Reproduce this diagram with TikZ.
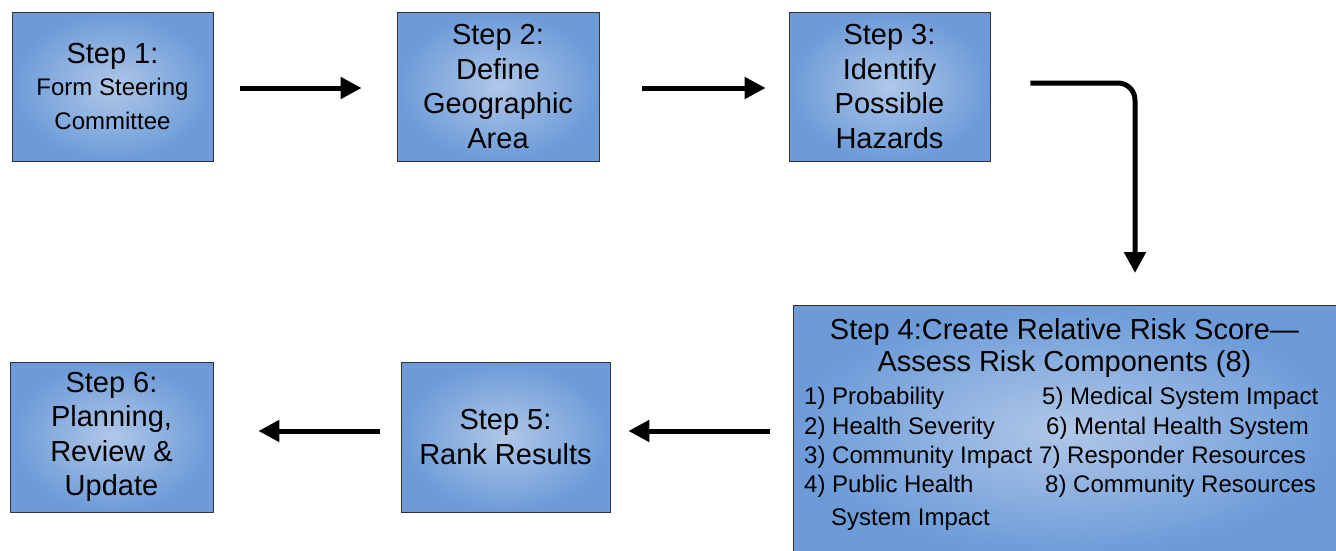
\documentclass[tikz,border=0pt]{standalone}
\usepackage{fontspec}
\setmainfont{Liberation Sans}
\usetikzlibrary{arrows.meta}
\definecolor{boxin}{RGB}{176,199,232}
\definecolor{boxout}{RGB}{108,155,216}
\tikzset{
  stepbox/.style={draw=black!80, line width=0.8pt, inner color=boxin, outer color=boxout,
    align=center, inner sep=0pt, font=\fontsize{29}{34.5}\selectfont},
  arr/.style={line width=5pt, -{Triangle[length=21pt,width=21pt]}},
  item/.style={anchor=west, inner sep=0pt, font=\fontsize{24}{29}\selectfont}
}
\begin{document}
\begin{tikzpicture}[x=1pt,y=-1pt]
\useasboundingbox (0,0) rectangle (1336,550);
\node[stepbox, minimum width=201pt, minimum height=149pt] (b1) at (112.5,86.5)
  {Step 1:\\[-3pt]{\fontsize{24}{34}\selectfont Form Steering}\\{\fontsize{24}{34}\selectfont Committee}};
\node[stepbox, minimum width=202pt, minimum height=149pt] (b2) at (498,86.5)
  {Step 2:\\Define\\Geographic\\Area};
\node[stepbox, minimum width=201pt, minimum height=149pt] (b3) at (889.5,86.5)
  {Step 3:\\Identify\\Possible\\Hazards};
\node[stepbox, minimum width=545pt, minimum height=250pt, anchor=north west] (b4) at (793,305) {};
\node[stepbox, minimum width=209pt, minimum height=150pt] (b5) at (505.5,437)
  {Step 5:\\Rank Results};
\node[stepbox, minimum width=203pt, minimum height=150pt] (b6) at (111.5,437)
  {Step 6:\\Planning,\\Review \&\\Update};

\node[align=center, inner sep=0pt, font=\fontsize{29}{32.5}\selectfont] (t4) at (1064.5,348)
  {Step 4:Create Relative Risk Score—\\Assess Risk Components (8)};
\node[item] (i1) at (804,398) {1) Probability};
\node[item] (i2) at (804,428) {2) Health Severity};
\node[item] (i3) at (804,457) {3) Community Impact};
\node[item] (i4) at (804,486) {4) Public Health};
\node[item] (i4b) at (831,520) {System Impact};
\node[item] (i5) at (1042,398) {5) Medical System Impact};
\node[item] (i6) at (1046,428) {6) Mental Health System};
\node[item] (i7) at (1039,457) {7) Responder Resources};
\node[item] (i8) at (1045,486) {8) Community Resources};

\draw[arr, shorten <=27pt, shorten >=35pt] ([yshift=-1.5pt]b1.east) -- ([yshift=-1.5pt]b2.west);
\draw[arr, shorten <=43pt, shorten >=23pt] ([yshift=-1.5pt]b2.east) -- ([yshift=-1.5pt]b3.west);
\coordinate (bend) at (1135,83);
\coordinate (down) at (1135,273);
\draw[arr, rounded corners=17pt] ([shift={(40,-3.5)}]b3.east) -- (bend) -- (down);
\draw[arr, shorten <=23pt, shorten >=18pt] (b4.west |- 0,431) -- ([yshift=6pt]b5.east);
\draw[arr, shorten <=21pt, shorten >=45pt] ([yshift=6pt]b5.west) -- ([yshift=6pt]b6.east);
\end{tikzpicture}
\end{document}
